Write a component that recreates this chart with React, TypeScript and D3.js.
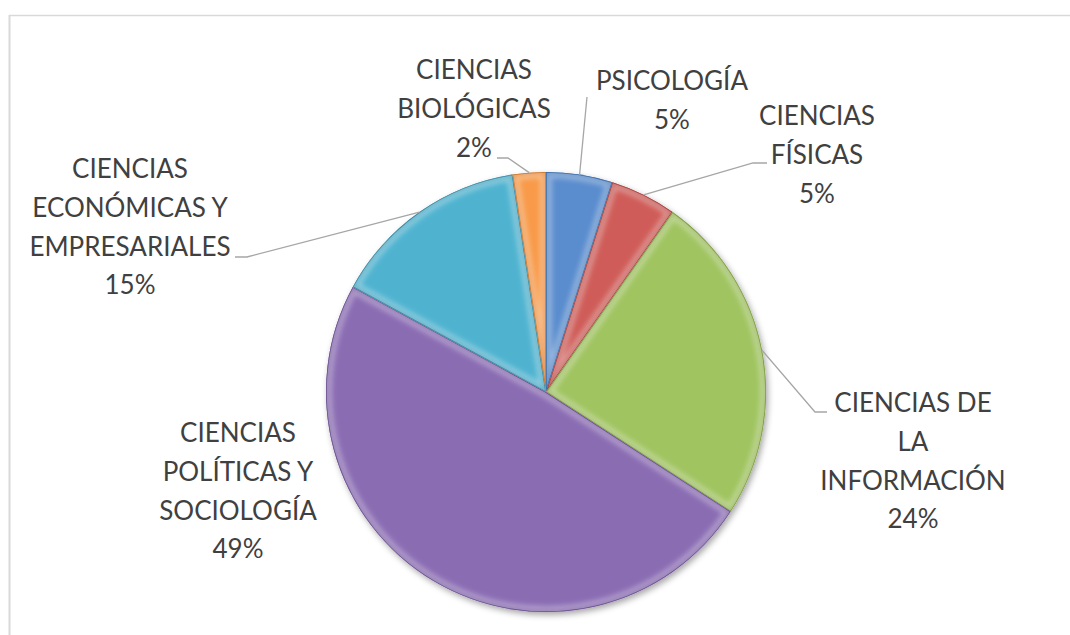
import React from "react";
import * as d3 from "d3";

// ---- data ----
const categories = [
  "PSICOLOGÍA",
  "CIENCIAS FÍSICAS",
  "CIENCIAS DE LA INFORMACIÓN",
  "CIENCIAS POLÍTICAS Y SOCIOLOGÍA",
  "CIENCIAS ECONÓMICAS Y EMPRESARIALES",
  "CIENCIAS BIOLÓGICAS",
];
const counts = [2, 2, 10, 20, 6, 1];
const labelLines = [
  ["PSICOLOGÍA"],
  ["CIENCIAS", "FÍSICAS"],
  ["CIENCIAS DE", "LA", "INFORMACIÓN"],
  ["CIENCIAS", "POLÍTICAS Y", "SOCIOLOGÍA"],
  ["CIENCIAS", "ECONÓMICAS Y", "EMPRESARIALES"],
  ["CIENCIAS", "BIOLÓGICAS"],
];
const colors = ["#5a8dce", "#cf5c58", "#a0c460", "#8a6cb3", "#4fb3d0", "#f89a48"];
const edgeColors = ["#3f6ea8", "#a54240", "#7f9c45", "#6a4f8f", "#3a8aa3", "#c97730"];

// ---- layout ----
const W = 1070;
const H = 635;
const CX = 546;
const CY = 392;
const R = 220;
const LINE_H = 38.8;
const FONT_SIZE = 26;
// label anchor: centre x, first baseline y; leader: [textEnd, elbow] (null = none)
const labelLayout: { x: number; y: number; leader: [number, number][] | null }[] = [
  { x: 672, y: 90, leader: [[587, 97]] },
  { x: 817, y: 125, leader: [[767, 163], [753, 163]] },
  { x: 913, y: 412, leader: [[827, 412], [815, 412]] },
  { x: 238, y: 442, leader: null },
  { x: 130, y: 178, leader: [[235, 257], [247, 257]] },
  { x: 474, y: 79, leader: [[497, 158], [508, 158]] },
];

export default function App() {
  const total = d3.sum(counts);
  const pie = d3
    .pie<number>()
    .sort(null)
    .value((d) => d)
    .startAngle(0)
    .endAngle(2 * Math.PI);
  const arcs = pie(counts);
  const arc = d3.arc<d3.PieArcDatum<number>>().innerRadius(0).outerRadius(R);
  const edgeArc = d3.arc<d3.PieArcDatum<number>>().innerRadius(R).outerRadius(R);
  const fmt = d3.format(".0%");

  return (
    <svg
      width={W}
      height={H}
      style={{ position: "absolute", left: 0, top: 0, background: "#fff" }}
      fontFamily="Lato, 'Open Sans', sans-serif"
    >
      <defs>
        <filter id="shadow" x="-20%" y="-20%" width="140%" height="140%">
          <feDropShadow dx="2" dy="3" stdDeviation="3" floodColor="#000" floodOpacity="0.35" />
        </filter>
        <filter id="blur" x="-10%" y="-10%" width="120%" height="120%">
          <feGaussianBlur stdDeviation="2.5" />
        </filter>
        {arcs.map((a, i) => (
          <clipPath id={`clip-${i}`} key={i}>
            <path d={arc(a) || ""} />
          </clipPath>
        ))}
      </defs>

      {/* chart area border */}
      <line x1={9} x2={W} y1={15.5} y2={15.5} stroke="#d9d9d9" strokeWidth={1.5} />
      <line x1={9.5} x2={9.5} y1={15} y2={H} stroke="#d9d9d9" strokeWidth={2} />

      <g transform={`translate(${CX},${CY})`}>
        <g filter="url(#shadow)">
          {arcs.map((a, i) => (
            <path key={i} d={arc(a) || ""} fill={colors[i]} />
          ))}
        </g>
        {arcs.map((a, i) => (
          <g key={`b${i}`} clipPath={`url(#clip-${i})`}>
            <path
              d={arc(a) || ""}
              fill="none"
              stroke="#ffffff"
              strokeOpacity={0.35}
              strokeWidth={12}
              filter="url(#blur)"
            />
            <path
              d={arc(a) || ""}
              fill="none"
              stroke={edgeColors[i]}
              strokeOpacity={0.6}
              strokeWidth={3}
              filter="url(#blur)"
            />
            <path d={arc(a) || ""} fill="none" stroke={edgeColors[i]} strokeWidth={1.5} />
          </g>
        ))}
      </g>

      {/* leader lines */}
      {arcs.map((a, i) => {
        const lay = labelLayout[i];
        if (!lay.leader) return null;
        const [ex, ey] = edgeArc.centroid(a);
        const pts: [number, number][] = [...lay.leader, [CX + ex, CY + ey]];
        return (
          <path
            key={`l${i}`}
            d={d3.line()(pts) || ""}
            fill="none"
            stroke="#a6a6a6"
            strokeWidth={1.3}
          />
        );
      })}

      {/* labels */}
      {arcs.map((a, i) => {
        const lay = labelLayout[i];
        const lines = [...labelLines[i], fmt(counts[i] / total)];
        return (
          <text
            key={`t${i}`}
            x={lay.x}
            y={lay.y}
            textAnchor="middle"
            fontSize={FONT_SIZE}
            fill="#404040"
          >
            {lines.map((ln, j) => (
              <tspan key={j} x={lay.x} y={lay.y + j * LINE_H}>
                {ln}
              </tspan>
            ))}
          </text>
        );
      })}
    </svg>
  );
}
